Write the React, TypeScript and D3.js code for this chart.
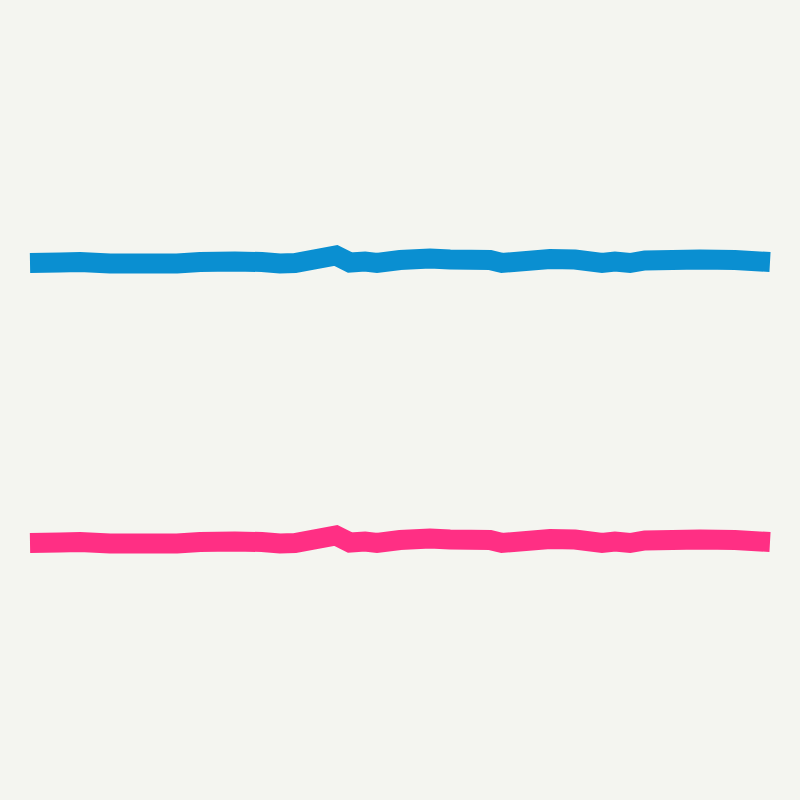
import React, { useRef, useEffect } from 'react';
import * as d3 from 'd3';

// x positions along the series (0..100) and the value read at each one
const steps = [0, 4.05, 6.76, 10.81, 19.86, 22.97, 27.7, 31.35, 33.78, 35.81, 41.35, 43.24, 45.27, 46.89, 50,
	54.05, 56.76, 62.16, 63.78, 70.27, 73.65, 77.3, 79.05, 81.08, 83.11, 90.54, 95.27, 100];
const values = [48.93, 49.11, 49.29, 48.75, 48.75, 49.29, 49.46, 49.29, 48.75, 48.93, 51.61, 49.11, 49.46, 48.93, 50.0,
	50.54, 50.18, 50.0, 48.93, 50.36, 50.18, 48.93, 49.46, 48.93, 49.82, 50.18, 50.0, 49.29];

const seriesNames = ['upper', 'lower'];
const seriesColors = ['#0a8fd1', '#ff2f84'];

type Point = { t: number; v: number };

const App: React.FC = () => {
	const chartRef = useRef<null | HTMLDivElement>(null);

	useEffect(() => {
		if (!chartRef.current) {
			return;
		}
		const width = 800;
		const height = 800;
		const margin = { top: 120, right: 30, bottom: 120, left: 30 };

		d3.select(chartRef.current).selectAll('svg').remove();

		const svg = d3.select(chartRef.current)
			.append('svg')
			.attr('width', width)
			.attr('height', height)
			.style('display', 'block');

		svg.append('rect')
			.attr('width', width)
			.attr('height', height)
			.attr('fill', '#f4f5f0');

		const data: Point[] = steps.map((t, i) => ({ t, v: values[i] }));

		const x = d3.scaleLinear().domain([0, 100]).range([margin.left, width - margin.right]);

		// one panel per series, stacked
		const panel = d3.scaleBand<string>()
			.domain(seriesNames)
			.range([margin.top, height - margin.bottom]);

		seriesNames.forEach((name, i) => {
			const top = panel(name) as number;
			const y = d3.scaleLinear().domain([0, 100]).range([top + panel.bandwidth(), top]);

			const line = d3.line<Point>()
				.x(d => x(d.t))
				.y(d => y(d.v));

			svg.append('path')
				.datum(data)
				.attr('fill', 'none')
				.attr('stroke', seriesColors[i])
				.attr('stroke-width', 20)
				.attr('stroke-linejoin', 'miter')
				.attr('stroke-linecap', 'butt')
				.attr('d', line);
		});
	}, []);

	return <div ref={chartRef} style={{ position: 'fixed', left: 0, top: 0 }}></div>;
};

export default App;
